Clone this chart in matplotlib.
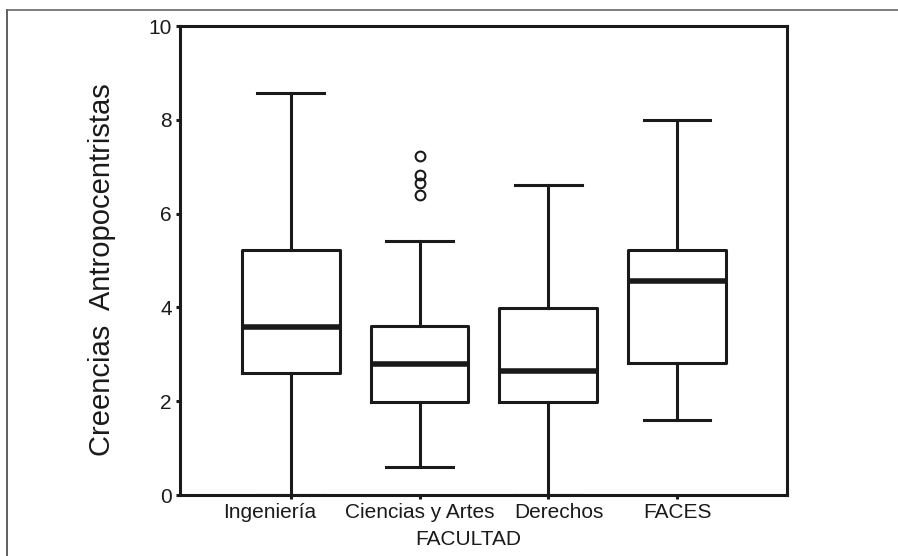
import matplotlib
matplotlib.use('Agg')
import matplotlib.pyplot as plt
import matplotlib.transforms as mtransforms
from matplotlib.lines import Line2D

plt.rcParams['font.family'] = ['Liberation Sans', 'DejaVu Sans']

#%% Data
facultades = ['Ingeniería', 'Ciencias y Artes', 'Derechos', 'FACES']
whislo = [0.0, 0.6, 0.0, 1.6]
q1 = [2.6, 1.98, 1.98, 2.81]
med = [3.58, 2.79, 2.64, 4.57]
q3 = [5.22, 3.6, 3.99, 5.22]
whishi = [8.57, 5.42, 6.61, 8.0]
outliers = [[], [6.4, 6.65, 6.82, 7.23], [], []]
yticks = [0, 2, 4, 6, 8, 10]

stats = []
for i in range(len(facultades)):
    stats.append({'label': facultades[i], 'whislo': whislo[i], 'q1': q1[i],
                  'med': med[i], 'q3': q3[i], 'whishi': whishi[i],
                  'fliers': outliers[i]})

#%% Plot
fig = plt.figure(figsize=(8.98, 5.56), dpi=100)
ax = fig.add_axes([0.2004, 0.1097, 0.6760, 0.8435])

lw = 2.2
ax.bxp(stats, positions=[1, 2, 3, 4], widths=0.76, capwidths=0.52,
       boxprops=dict(color='#1a1a1a', linewidth=lw),
       whiskerprops=dict(color='#1a1a1a', linewidth=lw),
       capprops=dict(color='#1a1a1a', linewidth=lw),
       medianprops=dict(color='#1a1a1a', linewidth=4.0),
       flierprops=dict(marker='o', markerfacecolor='none', markeredgecolor='#1a1a1a',
                       markersize=7, markeredgewidth=1.5))

ax.set_xlim(0.138, 4.855)
ax.set_ylim(0, 10)
ax.set_yticks(yticks)
ax.set_yticklabels([str(t) for t in yticks], fontsize=15, color='#1a1a1a')
ax.set_xticks([1, 2, 3, 4])
ax.set_xticklabels(facultades, fontsize=15, color='#1a1a1a')
ax.tick_params(axis='both', length=3, width=2.2, color='#1a1a1a', pad=3)

# the labels in the original are not quite centred under the boxes
shifts = [-21, 0, 11, 1]
for lab, dx in zip(ax.get_xticklabels(), shifts):
    lab.set_transform(lab.get_transform() +
                      mtransforms.ScaledTranslation(dx / 100, 0, fig.dpi_scale_trans))

for s in ax.spines.values():
    s.set_linewidth(2.2)
    s.set_color('#1a1a1a')

ax.set_ylabel('Creencias  Antropocentristas', fontsize=21, color='#1a1a1a')
ax.yaxis.set_label_coords(-0.105, 0.48)
ax.set_xlabel('FACULTAD', fontsize=15, color='#1a1a1a', va='top')
ax.xaxis.set_label_coords(0.4745, -0.074)

# outer frame of the original figure
fig.add_artist(Line2D([7/898, 7/898], [0, 1 - 10/556], transform=fig.transFigure,
                      color='#444444', linewidth=1.2))
fig.add_artist(Line2D([7/898, 1], [1 - 10/556, 1 - 10/556], transform=fig.transFigure,
                      color='#666666', linewidth=1.2))

plt.savefig('out.png', dpi=100)
